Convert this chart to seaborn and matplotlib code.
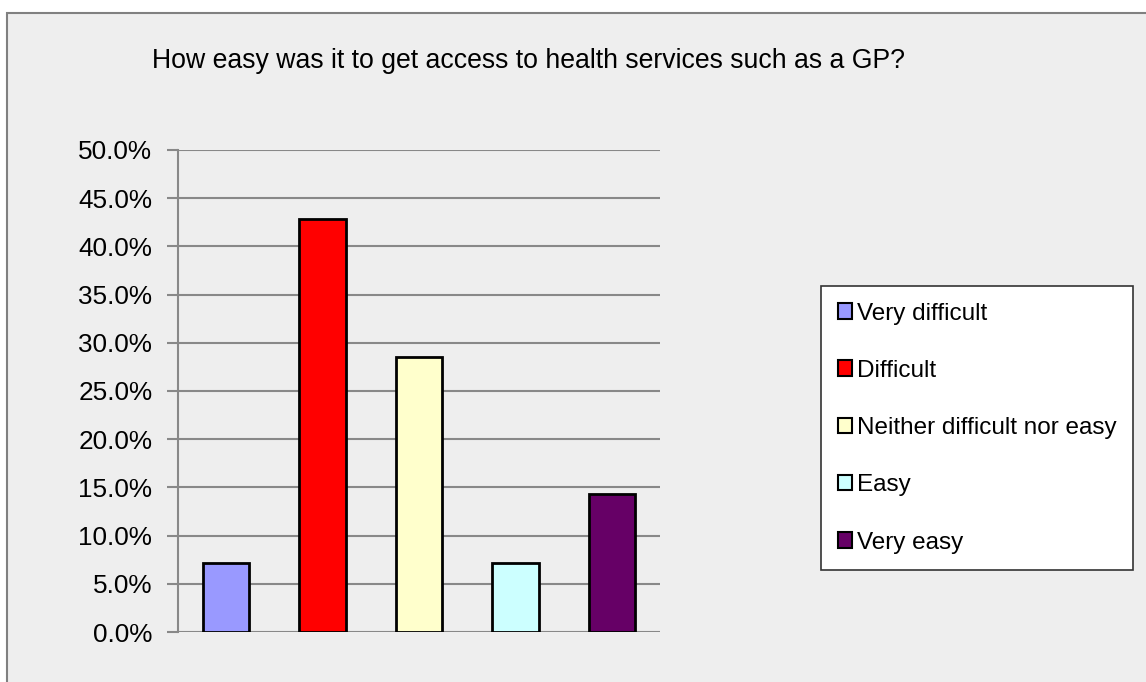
import matplotlib
matplotlib.use("Agg")
import matplotlib.pyplot as plt
import matplotlib.patches as mpatches
import seaborn as sns
import pandas as pd
from matplotlib.ticker import PercentFormatter

categories = ["Very difficult", "Difficult", "Neither difficult nor easy", "Easy", "Very easy"]
values = [7.14, 42.86, 28.57, 7.14, 14.29]
colors = ["#9999FF", "#FF0000", "#FFFFCC", "#CCFFFF", "#660066"]
title = "How easy was it to get access to health services such as a GP?"

df = pd.DataFrame({"category": categories, "value": values})

sns.set_style("white")
plt.rcParams["font.family"] = ["Liberation Sans", "DejaVu Sans"]
plt.rcParams["text.color"] = "black"

W, H = 1146, 682
fig = plt.figure(figsize=(W / 100, H / 100), dpi=100, facecolor="white")
# outer chart area
bg = mpatches.Rectangle((7 / W, -0.01), 1.02, 1 - 13 / H + 0.01,
                        transform=fig.transFigure, facecolor="#EEEEEE",
                        edgecolor="#808080", linewidth=1.5, zorder=-10)
fig.patches.append(bg)

ax = fig.add_axes([178 / W, 1 - 632 / H, (660 - 178) / W, (632 - 150) / H])
ax.set_facecolor("none")

sns.barplot(data=df, x="category", y="value", hue="category", palette=colors,
            order=categories, hue_order=categories, dodge=False, width=0.48,
            saturation=1, edgecolor="black", linewidth=2, ax=ax, legend=False, zorder=3)

ax.set_ylim(0, 50)
ax.set_yticks([i * 5 for i in range(11)])
ax.yaxis.set_major_formatter(PercentFormatter(decimals=1))
ax.grid(axis="y", color="#888888", linewidth=1.5, zorder=0)
ax.set_axisbelow(True)
ax.set_xticks([])
ax.set_xlabel("")
ax.set_ylabel("")
for s in ["top", "right", "bottom"]:
    ax.spines[s].set_visible(False)
ax.spines["left"].set_color("#888888")
ax.spines["left"].set_linewidth(1.5)
ax.tick_params(axis="y", which="major", length=8, width=1.5, color="#888888",
               labelsize=18.8, pad=10.5, left=True, labelcolor="black")

fig.text(528 / W, 1 - 61 / H, title, ha="center", va="center", fontsize=19.2,
         color="black")

handles = [mpatches.Patch(facecolor=c, edgecolor="black", linewidth=1.5, label=l)
           for c, l in zip(colors, categories)]
leg = fig.legend(handles=handles, loc="upper left",
                 bbox_to_anchor=(821 / W, 1 - 286 / H), bbox_transform=fig.transFigure,
                 frameon=True, fancybox=False, fontsize=17.5, handlelength=0.6,
                 handleheight=0.6, handletextpad=0.2, labelspacing=1.45,
                 borderpad=0.68, borderaxespad=0, framealpha=1)
leg.get_frame().set_edgecolor("#333333")
leg.get_frame().set_linewidth(1.2)
leg.get_frame().set_facecolor("white")
for t in leg.get_texts():
    t.set_color("black")

fig.savefig("out.png", dpi=100, facecolor="white")
